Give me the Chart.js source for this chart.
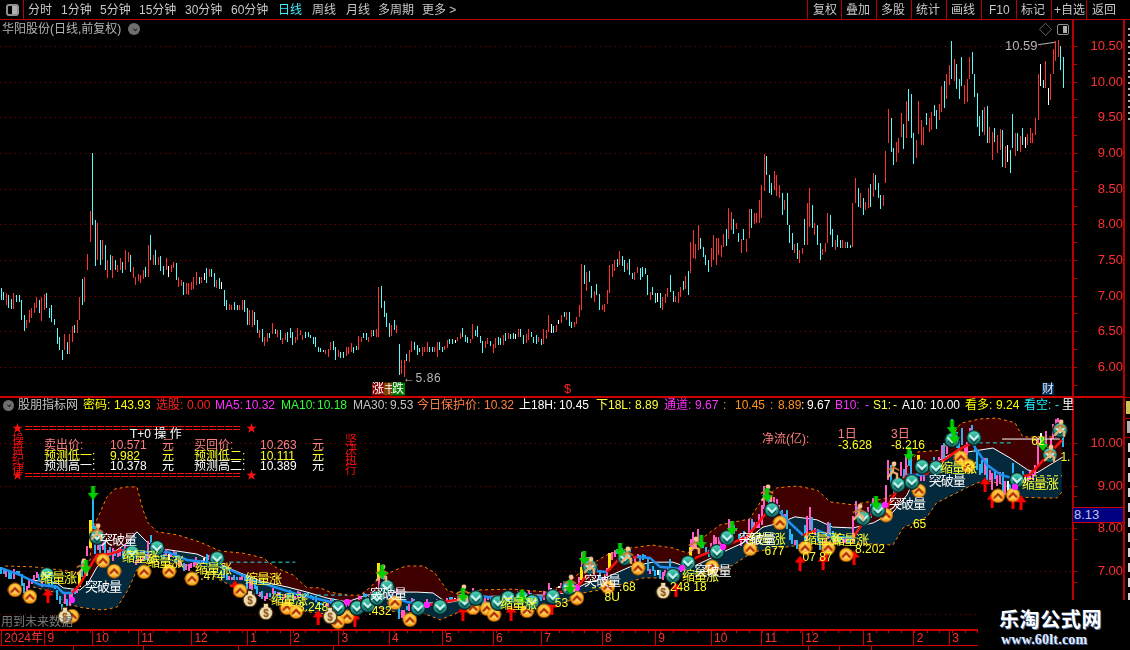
<!DOCTYPE html>
<html>
<head>
<meta charset="UTF-8">
<title>华阳股份 日线</title>
<style>
  html, body { margin: 0; padding: 0; background: #000; overflow: hidden; }
  body { width: 1130px; height: 650px; position: relative; font-family: "Liberation Sans", "Noto Sans CJK SC", sans-serif; }
  canvas { position: absolute; left: 0; }
  #main { top: 20px; }
  #sub { top: 398px; }
  .t { position: absolute; white-space: nowrap; transform: translateY(-50%); font-size: 12px; line-height: 14px; z-index: 5; }
  .b { position: absolute; z-index: 4; }
  #wm { position: absolute; left: 978px; top: 600px; width: 152px; height: 50px; background: #000; z-index: 6; }
</style>
<script src="https://cdn.jsdelivr.net/npm/chart.js"></script>
</head>
<body>
<canvas id="main" width="1123" height="376"></canvas>
<canvas id="sub" width="1123" height="248"></canvas>
<div id="wm"></div>

<script>
// daily bars
var highs = [
  7.11,7.06,7.04,7.02,6.96,7.05,7.02,7.02,6.95,6.74, 6.67,6.81,6.83,6.91,6.99,6.95,6.99,7.03,7.04,6.83,
  6.88,6.68,6.56,6.42,6.25,6.47,6.36,6.47,6.58,6.59, 6.67,6.99,7.24,7.27,7.59,8.19,9.00,8.07,8.02,7.79,
  7.79,7.71,7.51,7.58,7.56,7.51,7.44,7.54,7.48,7.65, 7.62,7.58,7.41,7.27,7.31,7.30,7.37,7.41,7.72,7.86,
  7.58,7.65,7.55,7.56,7.42,7.53,7.42,7.44,7.48,7.46, 7.27,7.23,7.20,7.18,7.18,7.20,7.27,7.34,7.27,7.27,
  7.32,7.40,7.38,7.38,7.32,7.23,7.26,7.20,7.09,6.95, 6.89,6.88,6.92,6.88,6.88,6.94,6.95,6.84,6.80,6.80,
  6.78,6.67,6.53,6.54,6.43,6.49,6.49,6.62,6.54,6.53, 6.52,6.41,6.48,6.50,6.56,6.50,6.42,6.55,6.53,6.46,
  6.50,6.50,6.46,6.43,6.43,6.29,6.27,6.25,6.25,6.26, 6.36,6.37,6.29,6.25,6.22,6.22,6.29,6.28,6.34,6.29,
  6.30,6.44,6.43,6.49,6.48,6.42,6.53,6.52,6.54,7.13, 7.14,6.93,6.76,6.62,6.60,6.67,6.60,6.33,6.11,6.11,
  6.19,6.25,6.37,6.36,6.31,6.27,6.28,6.28,6.35,6.29, 6.28,6.28,6.35,6.36,6.29,6.30,6.39,6.40,6.40,6.39,
  6.43,6.48,6.56,6.46,6.43,6.40,6.61,6.53,6.58,6.44, 6.37,6.37,6.41,6.37,6.33,6.41,6.43,6.41,6.46,6.48,
  6.48,6.47,6.48,6.47,6.54,6.54,6.46,6.47,6.54,6.50, 6.43,6.46,6.43,6.40,6.54,6.53,6.74,6.61,6.58,6.60,
  6.67,6.74,6.78,6.78,6.78,6.64,6.64,6.71,6.88,7.45, 7.44,7.34,7.35,7.14,7.07,7.17,7.03,6.88,6.89,7.09,
  7.44,7.45,7.51,7.52,7.63,7.56,7.51,7.46,7.52,7.32, 7.34,7.41,7.39,7.41,7.39,7.30,7.06,7.13,7.04,7.04,
  7.04,6.99,7.03,7.11,7.30,7.07,7.00,7.06,7.13,7.21, 7.28,7.35,7.76,7.93,7.73,8.00,7.81,7.69,7.57,7.50,
  7.67,7.86,7.81,7.81,7.72,7.87,7.94,8.24,8.18,8.08, 8.03,7.89,7.80,7.94,7.80,8.22,8.22,8.17,8.16,8.35,
  8.56,8.99,8.96,8.70,8.58,8.75,8.70,8.56,8.44,8.35, 8.45,8.00,7.88,7.73,7.74,7.65,7.68,8.08,8.30,8.52,
  8.28,8.02,8.00,7.74,7.66,7.74,8.16,8.14,7.94,7.79, 7.85,7.79,7.79,7.76,7.76,7.72,8.30,8.66,8.52,8.44,
  8.37,8.32,8.51,8.57,8.73,8.70,8.58,8.42,8.42,9.03, 9.62,9.49,9.08,9.16,9.21,9.57,9.41,9.73,9.90,9.83,
  9.28,9.19,9.73,9.47,9.37,9.56,9.49,9.58,9.68,9.61, 9.69,9.95,10.01,10.11,10.24,10.58,10.32,10.26,10.05,10.35,
  9.96,10.04,10.35,10.42,10.12,9.84,9.52,9.61,9.65,9.66, 9.37,9.30,9.35,9.26,9.34,9.33,9.11,9.12,9.05,9.55,
  9.28,9.28,9.25,9.35,9.23,9.27,9.36,9.28,9.49,10.12, 10.25,10.03,10.29,9.91,10.12,10.46,10.58,10.59,10.50,10.35
];
var lows = [
  6.94,6.94,6.88,6.83,6.82,6.82,6.92,6.92,6.67,6.51, 6.55,6.62,6.70,6.77,6.84,6.77,6.65,6.81,6.83,6.69,
  6.64,6.60,6.33,6.25,6.10,6.24,6.19,6.19,6.36,6.48, 6.49,6.66,6.88,6.92,7.37,7.76,8.00,7.42,7.50,7.44,
  7.50,7.37,7.25,7.36,7.25,7.37,7.34,7.37,7.32,7.37, 7.48,7.34,7.25,7.16,7.21,7.19,7.24,7.27,7.27,7.51,
  7.44,7.44,7.44,7.35,7.30,7.37,7.27,7.34,7.39,7.22, 7.13,7.14,7.01,7.03,7.02,7.09,7.10,7.16,7.17,7.18,
  7.22,7.19,7.27,7.27,7.13,7.11,7.10,7.10,6.86,6.81, 6.81,6.81,6.81,6.81,6.80,6.81,6.78,6.60,6.60,6.57,
  6.60,6.48,6.41,6.36,6.30,6.36,6.41,6.47,6.47,6.43, 6.39,6.33,6.39,6.36,6.41,6.32,6.34,6.39,6.46,6.39,
  6.41,6.42,6.41,6.33,6.29,6.22,6.21,6.21,6.19,6.14, 6.25,6.24,6.11,6.14,6.13,6.13,6.16,6.19,6.22,6.20,
  6.25,6.25,6.36,6.41,6.39,6.36,6.42,6.44,6.42,6.42, 6.83,6.71,6.57,6.42,6.44,6.53,6.48,5.89,5.91,5.87,
  6.09,6.08,6.21,6.25,6.18,6.22,6.16,6.22,6.22,6.21, 6.22,6.22,6.15,6.24,6.21,6.24,6.27,6.33,6.33,6.34,
  6.37,6.40,6.43,6.36,6.34,6.34,6.40,6.44,6.43,6.34, 6.20,6.27,6.33,6.30,6.20,6.27,6.31,6.31,6.31,6.37,
  6.40,6.40,6.40,6.40,6.43,6.43,6.33,6.34,6.39,6.43, 6.34,6.33,6.36,6.31,6.33,6.40,6.50,6.48,6.48,6.50,
  6.61,6.62,6.71,6.67,6.58,6.55,6.57,6.61,6.71,6.81, 7.17,7.07,7.20,6.97,6.92,7.02,6.81,6.81,6.78,6.89,
  7.04,7.27,7.35,7.41,7.44,7.42,7.34,7.37,7.30,7.24, 7.23,7.32,7.23,7.27,7.31,7.02,6.95,7.02,6.90,6.92,
  6.83,6.81,6.90,6.99,7.06,6.92,6.92,6.90,6.99,7.09, 7.10,7.02,7.32,7.54,7.52,7.64,7.66,7.55,7.44,7.34,
  7.41,7.50,7.44,7.57,7.55,7.69,7.70,7.80,7.93,7.87, 7.94,7.76,7.60,7.79,7.62,7.82,7.95,8.01,8.02,8.02,
  8.10,8.47,8.70,8.45,8.42,8.49,8.41,8.37,8.14,8.21, 8.00,7.74,7.64,7.61,7.52,7.47,7.59,7.72,7.72,7.97,
  7.95,7.86,7.72,7.50,7.57,7.62,7.75,7.86,7.69,7.64, 7.69,7.67,7.67,7.67,7.67,7.67,7.69,8.30,8.25,8.23,
  8.14,8.21,8.23,8.25,8.39,8.49,8.37,8.22,8.26,8.59, 9.14,9.02,8.84,8.88,9.00,9.23,9.06,9.22,9.46,9.21,
  8.85,8.94,9.27,9.12,9.12,9.40,9.30,9.33,9.52,9.34, 9.47,9.58,9.64,9.76,9.96,10.05,10.02,9.90,9.76,9.95,
  9.69,9.72,10.04,10.12,9.79,9.37,9.25,9.30,9.26,9.15, 9.15,8.91,9.16,9.01,9.05,8.81,8.80,8.88,8.73,9.07,
  8.96,9.04,9.02,9.12,9.07,9.12,9.14,9.14,9.26,9.47, 9.94,9.91,9.91,9.68,9.75,10.11,10.29,10.35,10.17,9.92
];
// r up, c down, w flat
var dirs = (
  'ccrccrcccc' + 'rrrrrcrrcc' + 'cccccrcrrc' + 'rrcrrrccrc' + 'rcrcrcrrcr' + 'rcrrrrrcrc' + 'rcrccrwrrc' +
  'rrcrrrrrcr' + 'wcrccrcwcc' + 'rrccrrccrr' + 'ccrcrrcrcr' + 'crrcccrrrr' + 'ccccccccrr' + 'rccrccrrrc' +
  'crrccrrcrr' + 'ccccrcrcrr' + 'crrcccrrrc' + 'crrccrrccw' + 'rrcccrrccc' + 'crrcrrccrc' + 'rccwrccrrc' +
  'ccrcrrrwcr' + 'wrcrccrrrr' + 'crccrccrrr' + 'rrrcrccrcc' + 'rrccccrccw' + 'crrrccrrrc' + 'rcrrrrcccc' +
  'rrrrrrcrrc' + 'rcrcrrcrrr' + 'rrcccrrrcr' + 'cccrcrrcrr' + 'crccrrrccr' + 'ccrrccrrcr' + 'crrcrcccrr' +
  'rccrrrcrcc' + 'crrrrcrrcc' + 'rrcrrcrccc' + 'rrrcccccrc' + 'rrcrrcrwcc' + 'rcrcwrrrrr' + 'wcrwrrrrcc'
).split('');

var monthIdx = [0, 17, 36, 54, 75, 97, 114, 133, 153, 174, 194, 213, 237, 258, 280, 300, 316, 340, 360, 374];
var monthLabels = ['2024年', '9', '10', '11', '12', '1', '2', '3', '4', '5', '6', '7', '8', '9', '10', '11', '12', '1', '2', '3'];
var mainTicks = [10.5, 10, 9.5, 9, 8.5, 8, 7.5, 7, 6.5, 6];
var subTicks = [10, 9, 8, 7, 6];

// bands of the lower panel: [bar index, price]
var bandUp = [[1.5,7.13],[12.5,7.11],[23,7.04],[31,6.97],[35,7.27],[35.8,7.97],[38.9,8.37],[41.7,8.75],[44.8,8.93],[49.6,8.98],[53.5,8.98],[55.9,8.44],[57.9,8.14],[61.4,7.93],[69.3,7.86],[78.4,7.69],[86.3,7.48],[95.3,7.43],[103.2,7.32],[108.8,7.08],[115.1,6.92],[120.6,6.62],[125.7,6.62],[129.6,6.52],[136.4,6.45],[141.5,6.45],[145.4,6.62],[149.4,6.87],[157.3,7.08],[160,7.13],[166.4,7.13],[171,6.97],[175.8,6.57],[180.9,6.45],[188.8,6.57],[201.9,6.59],[215.3,6.52],[223.2,6.73],[231,7.11],[238.9,7.39],[248,7.55],[257,7.62],[265,7.55],[270.9,7.43],[275.6,7.74],[283.5,8.09],[295.3,8.23],[299.3,8.61],[306,8.96],[313.9,9.0],[321.8,8.91],[327,8.63],[336,8.56],[349.4,8.72],[354.5,8.96],[356.5,9.38],[361.6,9.8],[371.5,9.84],[374.2,10.12],[378.6,10.47],[386,10.57],[392.8,10.59],[399.9,10.48],[403,10.15],[408.6,10.15],[418.4,10.15]];
var bandMid = [[12.5,6.8],[22,6.73],[24.4,6.62],[31,6.57],[34.2,6.73],[37.8,7.11],[42.9,7.39],[49.6,7.67],[53.5,7.93],[57.5,7.69],[61.4,7.55],[69.3,7.48],[77.2,7.41],[85.1,7.2],[94.2,6.97],[103.2,6.76],[112.7,6.64],[120.6,6.52],[128.5,6.38],[136.4,6.29],[144.3,6.45],[157.2,6.52],[163.9,6.52],[170.3,6.5],[175.8,6.27],[182.1,6.34],[190,6.41],[201.9,6.45],[213.7,6.45],[223.2,6.5],[231,6.73],[238.9,6.87],[248,7.11],[257,7.22],[265,7.22],[271.7,7.08],[278.4,7.27],[286.3,7.5],[292.6,7.67],[300.5,8.04],[307.2,8.14],[313.1,8.28],[321.8,8.21],[328,8.04],[336,8.02],[344,8.14],[351.8,8.39],[357.3,8.79],[361.6,9.33],[368.4,9.56],[374.2,9.73],[385.8,9.84],[391.2,9.89],[397.9,9.66],[404.9,9.38],[408.6,9.31],[414.9,9.54],[418.8,9.68]];
var bandLow = [[12.5,6.64],[22,6.5],[24.4,6.27],[32.2,6.15],[40.1,6.1],[45.7,6.17],[50,6.57],[53.5,7.04],[57.5,7.2],[65.4,7.2],[73.3,7.15],[78.4,7.11],[86.3,6.8],[94.2,6.57],[103.2,6.41],[111.1,6.22],[120.6,6.06],[131,5.99],[144.3,6.15],[149.4,6.15],[157.3,6.03],[166.4,6.03],[173.1,5.87],[180.9,6.06],[188.8,6.15],[201.9,6.17],[213.7,6.17],[223.2,6.29],[229.5,6.5],[236.2,6.57],[244.1,6.69],[253.2,6.85],[259.9,6.85],[267.8,6.87],[274.5,6.92],[283.5,7.04],[288.6,7.15],[296.5,7.46],[302,7.51],[315,7.62],[325.7,7.67],[336,7.67],[351.8,7.62],[355.7,8.02],[365.2,8.28],[369,8.61],[376.9,8.84],[382.1,9.0],[388,9.14],[395.9,9.03],[401.9,8.74],[410.9,8.72],[416.4,8.72],[418.4,8.86]];
var maLine = [[0,7.08],[7.4,6.92],[15.3,6.69],[22,6.64],[24.4,6.5],[27.9,6.5],[31,6.69],[34.2,7.04],[37.8,7.39],[42.9,7.41],[48,7.51],[54.7,7.46],[65.4,7.46],[73.3,7.27],[81.2,7.22],[89,7.08],[99.3,6.8],[108.8,6.62],[117.8,6.45],[128.5,6.31],[133.6,6.22],[138.7,6.27],[146.6,6.38],[149.4,6.57],[153.4,6.45],[160,6.29],[167.9,6.22],[173.1,6.27],[179.8,6.34],[187.7,6.45],[194,6.38],[204.6,6.41],[213.7,6.41],[219.2,6.5],[227.1,6.62],[231,6.92],[235,7.01],[238.9,6.99],[244.1,7.32],[250.8,7.34],[255.9,7.32],[259.9,7.11],[267.8,7.06],[274.5,7.34],[279.6,7.46],[286.3,7.62],[294.1,7.81],[300.5,8.28],[303.3,8.44],[307.2,8.39],[311.1,8.14],[316.3,7.85],[321.8,7.97],[328,7.81],[336,7.79],[339.9,8.14],[343.9,8.37],[347.8,8.32],[351.8,8.75],[357.3,9.26],[364.4,9.26],[370.3,9.54],[377.4,9.84],[382.9,10.01],[388.9,9.49],[394.4,9.26],[398.7,9.19],[405.8,9.26],[413,9.73],[418.5,10.08]];

// signal marks of the lower panel: [bar index, price]
var coinMarks = [[5.4,6.57],[11.3,6.41],[40.1,7.25],[44.5,7.01],[56.3,6.99],[66.2,7.01],[75.2,6.83],[94.2,6.55],[27.9,5.96],[112.7,6.15],[116.3,6.06],[136.4,5.94],[132.8,5.82],[155.3,6.27],[161.2,5.87],[186.1,6.15],[191.6,6.13],[194.4,5.99],[207.4,6.08],[214.1,6.08],[227.1,6.38],[239.3,6.64],[251.2,7.08],[280.4,7.11],[295.4,7.53],[307.2,8.14],[317.1,7.55],[326.2,7.55],[333.3,7.39],[349,8.32],[362,8.89],[393.2,8.77],[399.1,8.79],[378.6,9.66],[381.4,9.47]];
var tealMarks = [[18,6.92],[37.8,7.81],[51.6,7.44],[61.4,7.55],[85.1,7.3],[132.8,6.15],[140.3,6.15],[144.6,6.22],[148.2,6.38],[152.1,6.64],[164.4,6.15],[173.1,6.17],[182.8,6.29],[187.2,6.38],[195.9,6.27],[199.9,6.38],[205.4,6.38],[209.4,6.29],[217.6,6.41],[223.9,6.62],[232.2,7.11],[246,7.32],[264.9,6.9],[270.9,7.2],[282.3,7.46],[286.3,7.79],[304,8.44],[340,8.25],[345.9,8.44],[353.8,9.03],[359.2,9.1],[363.2,9.45],[368.7,9.42],[375.1,10.08],[383.7,10.13],[400.7,9.14],[413.7,9.73],[417.7,10.31]];
var bagMarks = [[25.1,5.99],[98.1,6.38],[104.4,6.08],[129.7,5.99],[261.1,6.57]];
var runMarks = [[37.8,7.93],[32.2,7.11],[150.2,6.97],[182.1,6.5],[224.4,6.73],[232.2,7.15],[246.8,7.39],[273.6,7.62],[302.1,8.84],[338.4,8.39],[351.8,9.38],[413.7,9.77],[417.7,10.36]];
var upMarks = [[18.4,6.43],[92.2,6.62],[125,5.92],[139.5,5.87],[182.1,6.03],[201.1,6.03],[217.2,6.15],[266.2,6.57],[315.1,7.2],[324.2,7.22],[336.4,7.32],[325.4,7.46],[388.1,9.03],[390.9,8.67],[399.1,8.63],[402.3,8.61]];
var downMarks = [[36.2,8.84],[33.4,7.11],[150.2,6.99],[182.1,6.45],[205.4,6.41],[224.4,6.64],[229.9,7.32],[244.1,7.51],[276.1,7.69],[288.3,8.02],[302.1,8.79],[345.1,8.61],[358.1,9.75],[375.1,10.38],[375.9,10.15],[410.9,9.98]];
var dotMarks = [[27.9,6.34],[136.4,6.29],[167.9,6.22],[227.1,6.62],[268.6,7.08],[284.7,7.58],[348.6,8.56],[399.9,8.98]];
var yellowBars = [[31,6.64,6.97],[35,7.55,8.21],[149,6.8,7.2],[229,6.8,7.1],[240,7.04,7.43],[272,7.32,7.58],[362,9.56,9.73]];
var flatLines = [[90,116,7.22,'#20e0e0',[4,3]],[124.5,136.4,6.45,'#20e0e0',[4,3]],[382.9,398.7,10.01,'#20e0e0',[4,3]],[394.8,417.6,10.1,'#ffffff',[]],[407,418.4,9.24,'#ffff40',[4,3]],[233,240,6.62,'#ffff40',[4,3]]];

var shrinkLabels = [[22.4,6.87],[54.7,7.37],[64.6,7.25],[83.5,7.09],[103.2,6.85],[113.5,6.36],[203.8,6.27],[275.6,6.92],[302,7.79],[323.8,7.79],[334.8,7.76],[377.4,9.44],[409.7,9.07]];
var breakLabels = [[46,7.76],[40.1,6.67],[152.6,6.5],[237,6.8],[280.6,7.04],[298,7.79],[357.3,8.61],[373,9.14]];
var numLabels = [[83.1,6.87,'.474'],[123,6.15,'3.248'],[149.4,6.06,'.432'],[271,6.62,'248 18'],[241,6.4,'8U'],[247,6.62,'.68'],[221,6.24,'53'],[322,7.32,'07 87'],[342.7,7.5,'8.202'],[361.6,8.09,'.65'],[305,7.46,'677'],[409,10.03,'62'],[419.8,9.66,'1.']];

// ---- icons for the signal marks
function mk(w, h, draw) {
  var c = document.createElement('canvas');
  c.width = w; c.height = h;
  draw(c.getContext('2d'));
  return c;
}
var coinIcon = mk(15, 15, function (g) {
  var gr = g.createRadialGradient(7.5, 5, 1, 7.5, 7.5, 7.5);
  gr.addColorStop(0, '#ffe060'); gr.addColorStop(0.7, '#ffb020'); gr.addColorStop(1, '#d86000');
  g.fillStyle = gr; g.beginPath(); g.arc(7.5, 7.5, 7, 0, 7); g.fill();
  g.lineWidth = 2; g.strokeStyle = '#a82000';
  g.beginPath(); g.moveTo(3.5, 10); g.lineTo(7.5, 5.5); g.lineTo(11.5, 10); g.stroke();
  g.lineWidth = 1; g.strokeStyle = '#fff0b0';
  g.beginPath(); g.moveTo(4, 12); g.lineTo(7.5, 8.5); g.lineTo(11, 12); g.stroke();
});
var tealIcon = mk(16, 16, function (g) {
  var gr = g.createLinearGradient(0, 0, 0, 16);
  gr.addColorStop(0, '#50e0c0'); gr.addColorStop(1, '#0a6060');
  g.fillStyle = '#082020'; g.beginPath(); g.arc(8, 8, 8, 0, 7); g.fill();
  g.fillStyle = gr; g.beginPath(); g.arc(8, 8, 6.7, 0, 7); g.fill();
  g.lineWidth = 2; g.strokeStyle = '#d0f8f0';
  g.beginPath(); g.moveTo(3.5, 5.5); g.lineTo(8, 10); g.lineTo(12.5, 5.5); g.stroke();
  g.lineWidth = 1; g.strokeStyle = '#063030';
  g.beginPath(); g.moveTo(4, 9); g.lineTo(8, 13); g.lineTo(12, 9); g.stroke();
});
var bagIcon = mk(16, 18, function (g) {
  g.fillStyle = '#3a2408'; g.beginPath(); g.arc(8, 11, 7.6, 0, 7); g.fill();
  g.fillRect(5, 1, 6, 5);
  g.fillStyle = '#ecdcae'; g.beginPath(); g.arc(8, 11, 6.3, 0, 7); g.fill();
  g.fillRect(6, 2, 4, 4);
  g.fillStyle = '#8a4a10'; g.font = 'bold 10px "Liberation Sans"'; g.textAlign = 'center';
  g.fillText('$', 8, 15);
});
var runIcon = mk(14, 18, function (g) {
  g.strokeStyle = '#f0b070'; g.fillStyle = '#f8c890'; g.lineWidth = 2.4; g.lineCap = 'round';
  g.beginPath(); g.arc(8, 3, 2.4, 0, 7); g.fill();
  g.beginPath(); g.moveTo(7.5, 6); g.lineTo(6.5, 11); g.lineTo(2, 16); g.stroke();
  g.beginPath(); g.moveTo(6.5, 11); g.lineTo(11, 13); g.lineTo(11, 17); g.stroke();
  g.strokeStyle = '#c87830'; g.lineWidth = 1.8;
  g.beginPath(); g.moveTo(1.5, 9); g.lineTo(7.5, 6.5); g.lineTo(12.5, 9); g.stroke();
});
var upIcon = mk(11, 15, function (g) {
  g.fillStyle = '#ff0000';
  g.beginPath(); g.moveTo(5.5, 0); g.lineTo(11, 7); g.lineTo(7, 7); g.lineTo(7, 15); g.lineTo(4, 15); g.lineTo(4, 7); g.lineTo(0, 7); g.fill();
});
var downIcon = mk(11, 14, function (g) {
  g.fillStyle = '#00d000';
  g.beginPath(); g.moveTo(5.5, 14); g.lineTo(11, 7); g.lineTo(7.5, 7); g.lineTo(7.5, 0); g.lineTo(3.5, 0); g.lineTo(3.5, 7); g.lineTo(0, 7); g.fill();
});
var dotIcon = mk(6, 6, function (g) {
  g.fillStyle = '#ff20ff'; g.fillRect(1, 0, 4, 6); g.fillRect(0, 1, 6, 4);
});

function pts(list) { return list.map(function (p) { return { x: p[0], y: p[1] }; }); }
var barData = highs.map(function (h, i) { return { x: i, y: [lows[i], h] }; });

// ---- plugins
var snapBars = {
  id: 'snapBars',
  beforeDatasetsDraw: function (chart) {
    chart.getSortedVisibleDatasetMetas().forEach(function (m) {
      if (m.type !== 'bar') return;
      m.data.forEach(function (el) {
        el.x = el.width % 2 ? Math.floor(el.x) + 0.5 : Math.round(el.x);
        el.y = Math.round(el.y);
        el.base = Math.round(el.base);
      });
    });
  }
};
var subLabels = {
  id: 'subLabels',
  afterDatasetsDraw: function (chart) {
    var g = chart.ctx, sx = chart.scales.x, sy = chart.scales.y;
    g.save();
    g.textAlign = 'center';
    g.textBaseline = 'middle';
    g.font = '12px "Liberation Sans"';
    g.fillStyle = '#ffff30';
    numLabels.forEach(function (l) { g.fillText(l[2], sx.getPixelForValue(l[0]), sy.getPixelForValue(l[1])); });
    g.font = '13px "Noto Sans CJK SC"';
    g.letterSpacing = '-1px';
    g.fillStyle = '#ffff30';
    shrinkLabels.forEach(function (l) { g.fillText('缩量涨', sx.getPixelForValue(l[0]), sy.getPixelForValue(l[1])); });
    g.fillStyle = '#ffffff';
    breakLabels.forEach(function (l) { g.fillText('突破量', sx.getPixelForValue(l[0]), sy.getPixelForValue(l[1])); });
    g.letterSpacing = '0px';
    // small day marks on the date axis
    g.strokeStyle = '#d00000';
    g.beginPath();
    for (var i = 0; i < 400; i += 5) {
      var x = Math.round(sx.getPixelForValue(i)) + 0.5;
      g.moveTo(x, chart.chartArea.bottom);
      g.lineTo(x, chart.chartArea.bottom + 3);
    }
    g.stroke();
    g.restore();
  }
};

// ---- charts
var xRange = { min: -0.51, max: 422.4 };

function yAxis(min, max, labelled) {
  var list = [];
  labelled.forEach(function (v) { list.push(v); list.push(v - 0.25); });
  return {
    position: 'right', min: min, max: max,
    afterBuildTicks: function (s) { s.ticks = list.map(function (v) { return { value: v }; }); },
    afterFit: function (s) { s.width = 51; s.paddingTop = 0; s.paddingBottom = 0; },
    border: { display: false, dash: [1, 4] },
    grid: {
      color: function (c) { return labelled.indexOf(c.tick.value) >= 0 ? '#900000' : 'transparent'; },
      tickColor: '#c00000', tickLength: 5, tickBorderDash: [], lineWidth: 1
    },
    ticks: {
      autoSkip: false, padding: 8, crossAlign: 'far', color: '#ff3030',
      font: { family: '"Liberation Sans"', size: 13 },
      callback: function (v) { return labelled.indexOf(v) >= 0 ? v.toFixed(2) : ''; }
    }
  };
}

new Chart(document.getElementById('main'), {
  type: 'bar',
  data: {
    datasets: [{
      data: barData,
      backgroundColor: dirs.map(function (d) { return d === 'r' ? '#ff3232' : d === 'w' ? '#ffffff' : '#54fcfc'; }),
      barThickness: 1, inflateAmount: 0, borderWidth: 0
    }]
  },
  options: {
    responsive: false, animation: false, devicePixelRatio: 1,
    layout: { autoPadding: false },
    plugins: { legend: { display: false }, tooltip: { enabled: false } },
    scales: {
      x: { type: 'linear', display: false, offset: false, grid: { offset: false }, min: xRange.min, max: xRange.max },
      y: yAxis(5.6, 10.87, mainTicks)
    }
  },
  plugins: [snapBars]
});

var subDatasets = [
  { type: 'line', label: 'redTop', data: pts(bandUp.slice(4)), borderWidth: 0, borderColor: 'transparent', pointRadius: 0, fill: { target: 1, above: '#3e0000', below: '#3e0000' }, order: 20 },
  { type: 'line', label: 'mid', data: pts(bandMid), borderColor: '#ffffff', borderWidth: 1, pointRadius: 0, order: 15 },
  { type: 'line', label: 'low', data: pts(bandLow), borderColor: '#ff8000', borderWidth: 1, borderDash: [3, 3], pointRadius: 0, fill: { target: 1, above: '#04283c', below: '#04283c' }, order: 19 },
  { type: 'line', label: 'up', data: pts(bandUp), borderColor: '#ff8000', borderWidth: 1, borderDash: [3, 3], pointRadius: 0, order: 14 },
  {
    type: 'bar', data: barData, grouped: false,
    backgroundColor: dirs.map(function (d) { return d === 'r' ? '#ff5ac8' : d === 'w' ? '#ffffff' : '#28b4f0'; }),
    barThickness: 2, inflateAmount: 0, order: 10
  },
  {
    type: 'bar', grouped: false,
    data: yellowBars.map(function (b) { return { x: b[0], y: [b[1], b[2]] }; }),
    backgroundColor: '#ffe800', barThickness: 3, inflateAmount: 0, order: 9
  },
  {
    type: 'line', data: pts(maLine), borderWidth: 2.5, pointRadius: 0, order: 8, borderColor: '#2090f0',
    segment: { borderColor: function (c) { return c.p1.parsed.y > c.p0.parsed.y ? '#f81010' : '#2090f0'; } }
  }
];
flatLines.forEach(function (l) {
  subDatasets.push({ type: 'line', data: [{ x: l[0], y: l[2] }, { x: l[1], y: l[2] }], borderColor: l[3], borderWidth: 1, borderDash: l[4], pointRadius: 0, order: 7 });
});
[[upMarks, upIcon, 6], [coinMarks, coinIcon, 5], [tealMarks, tealIcon, 4], [bagMarks, bagIcon, 3], [dotMarks, dotIcon, 2.5], [runMarks, runIcon, 2], [downMarks, downIcon, 1]].forEach(function (s) {
  subDatasets.push({ type: 'scatter', data: pts(s[0]), pointStyle: s[1], pointRadius: 3, showLine: false, order: s[2] });
});

new Chart(document.getElementById('sub'), {
  data: { datasets: subDatasets },
  options: {
    responsive: false, animation: false, devicePixelRatio: 1,
    layout: { autoPadding: false },
    plugins: { legend: { display: false }, tooltip: { enabled: false } },
    scales: {
      x: {
        type: 'linear', offset: false, min: xRange.min, max: xRange.max,
        afterBuildTicks: function (s) { s.ticks = monthIdx.map(function (v) { return { value: v }; }); },
        afterFit: function (s) { s.height = 16; s.paddingLeft = 0; s.paddingRight = 0; },
        border: { color: '#d00000', width: 2 },
        grid: { offset: false, drawOnChartArea: false, tickLength: 15, tickColor: '#d00000' },
        ticks: {
          autoSkip: false, maxRotation: 0, minRotation: 0, align: 'start', padding: -14, labelOffset: 3, color: '#ff3030',
          font: { family: '"Liberation Sans","Noto Sans CJK SC"', size: 12 },
          callback: function (v) { return monthLabels[monthIdx.indexOf(v)]; }
        }
      },
      y: yAxis(5.633, 11.06, subTicks)
    }
  },
  plugins: [snapBars, subLabels]
});

// ---- page furniture around the charts
function txt(x, y, s, color, size, extra) {
  var d = document.createElement('div');
  d.className = 't';
  d.textContent = s;
  d.style.left = x + 'px';
  d.style.top = y + 'px';
  d.style.color = color;
  if (size) d.style.fontSize = size + 'px';
  if (extra) d.style.cssText += extra;
  document.body.appendChild(d);
  return d;
}
function box(x, y, w, h, color, extra) {
  var d = document.createElement('div');
  d.className = 'b';
  d.style.cssText = 'left:' + x + 'px;top:' + y + 'px;width:' + w + 'px;height:' + h + 'px;background:' + color + ';' + (extra || '');
  document.body.appendChild(d);
  return d;
}

var lineRed = '#b80000';
box(0, 19, 1130, 1, lineRed);
box(23, 0, 1, 19, lineRed);
box(0, 396, 1123, 2, '#d00000');
box(0, 645, 978, 1, '#d00000');
box(1072, 20, 2, 580, lineRed);
[73, 143, 238, 333, 808, 839, 871].forEach(function (x) { box(x, 646, 1, 4, '#d00000'); });
box(1123, 20, 2, 580, lineRed);
box(1125, 397, 5, 1, lineRed);
box(1125, 418, 5, 1, lineRed);
box(1125, 437, 5, 1, lineRed);
[443, 458, 473, 488, 503, 518, 533, 548, 563, 578, 593].forEach(function (y) { box(1128, y, 2, 9, '#d8d8d8'); });
[28, 34, 40, 46, 52, 58, 64, 70, 76, 82, 88, 94, 100, 106, 112, 118].forEach(function (y) { box(1128, y, 2, 2, '#b0b0b0'); });
box(1126, 401, 4, 13, '#c8c850');
box(1127, 421, 3, 12, '#b0b0b0');

// toolbar, left
box(6, 4, 13, 12, '#000', 'border:2px solid #909090;border-radius:3px;box-sizing:border-box;');
box(12, 6, 5, 8, '#b0b0b0');
[[28, '分时'], [61, '1分钟'], [100, '5分钟'], [139, '15分钟'], [185, '30分钟'], [231, '60分钟'], [312, '周线'], [346, '月线'], [378, '多周期'], [422, '更多 >']].forEach(function (t) {
  txt(t[0], 10, t[1], '#c8c8c8');
});
txt(278, 10, '日线', '#40f0ff');
// toolbar, right
[807, 841, 876, 911, 946, 981, 1016, 1051, 1086].forEach(function (x) { box(x, 0, 1, 19, lineRed); });
[[813, '复权'], [846, '叠加'], [881, '多股'], [916, '统计'], [951, '画线'], [989, 'F10'], [1021, '标记'], [1054, '+自选'], [1092, '返回']].forEach(function (t) {
  txt(t[0], 10, t[1], '#c8c8c8');
});

// stock title
txt(2, 29, '华阳股份(日线,前复权)', '#b4b4b4');
box(128, 23, 12, 12, '#6e6e6e', 'border-radius:50%;');
txt(131, 28, '⌄', '#111', 10);
txt(1039, 30, '◇', '#808080', 13);
box(1057, 24, 12, 11, '#000', 'border:1px solid #909090;border-radius:2px;box-sizing:border-box;');
box(1063, 26, 4, 7, '#b0b0b0');

// marks on the upper panel
txt(1005, 46, '10.59', '#b4b4b4', 13);
box(1038, 43, 17, 1, '#b4b4b4', 'transform:rotate(-9deg);');
txt(403, 378, '←5.86', '#b4b4b4', 12, 'letter-spacing:0.6px;');
txt(372, 388.5, '涨', '#fff', 12, 'background:#880000;width:12px;height:13px;line-height:13px;');
txt(384, 388.5, '书', '#fff', 11, 'background:#804000;width:8px;height:13px;line-height:13px;overflow:hidden;');
txt(392, 388.5, '跌', '#fff', 12, 'background:#007800;width:13px;height:13px;line-height:13px;');
txt(564, 389, '$', '#ff2020', 13);
txt(1042, 388.5, '财', '#e0e0e0', 12, 'background:#003060;width:12px;height:12px;line-height:12px;');

// header of the lower panel
box(3, 400, 11, 11, '#6e6e6e', 'border-radius:50%;');
txt(5, 404, '⌄', '#111', 10);
[
  [18, '股朋指标网', '#c4c4c4'], [83, '密码:', '#ffff00'], [114, '143.93', '#ffff00'],
  [156, '选股:', '#ff2020'], [187, '0.00', '#ff2020'], [215, 'MA5:', '#ff30ff'], [245, '10.32', '#ff30ff'],
  [281, 'MA10:', '#30ff30'], [317, '10.18', '#30ff30'], [353, 'MA30:', '#c4c4c4'], [390, '9.53', '#c4c4c4'],
  [417, '今日保护价:', '#ff8040'], [484, '10.32', '#ff8040'], [519, '上18H:', '#ffffff'], [559, '10.45', '#ffffff'],
  [596, '下18L:', '#ffff40'], [635, '8.89', '#ffff40'], [664, '通道:', '#ff30ff'], [695, '9.67', '#ff30ff'],
  [723, ':', '#ff9020'], [735, '10.45', '#ff9020'], [770, ':', '#ff9020'], [778, '8.89', '#ff9020'],
  [801, ':', '#ffffff'], [807, '9.67', '#ffffff'], [835, 'B10:', '#ff30ff'], [865, '-', '#ff30ff'],
  [873, 'S1:', '#ffff40'], [893, '-', '#ffff40'], [902, 'A10:', '#ffffff'], [930, '10.00', '#ffffff'],
  [965, '看多:', '#ffff00'], [996, '9.24', '#ffff00'], [1024, '看空:', '#20f0ff'], [1055, '-', '#20f0ff'], [1062, '里', '#ffffff']
].forEach(function (t) { txt(t[0], 405, t[1], t[2]); });

// T+0 block
var dash = 'background:repeating-linear-gradient(90deg,#f01010 0 7px,transparent 7px 8px);';
box(25, 426, 216, 1, '#f01010', dash);
box(25, 429, 216, 1, '#f01010', dash);
box(25, 473, 216, 1, '#f01010', dash);
box(25, 476, 216, 1, '#f01010', dash);
txt(12, 428, '★', '#ff1010', 11);
txt(246, 428, '★', '#ff1010', 11);
txt(12, 475, '★', '#ff1010', 11);
txt(246, 475, '★', '#ff1010', 11);
txt(130, 434, 'T+0 操 作', '#ffffff');
var rows = [
  [445, '#ff8080', '卖出价:', '10.571', '买回价:', '10.263'],
  [456, '#ffff20', '预测低一:', '9.982', '预测低二:', '10.111'],
  [466, '#ffffff', '预测高一:', '10.378', '预测高二:', '10.389']
];
rows.forEach(function (r) {
  txt(44, r[0], r[2], r[1]);
  txt(110, r[0], r[3], r[1]);
  txt(162, r[0], '元', r[1]);
  txt(194, r[0], r[4], r[1]);
  txt(260, r[0], r[5], r[1]);
  txt(312, r[0], '元', r[1]);
});
'操盘纪律'.split('').forEach(function (c, i) { txt(12, 440 + i * 10, c, '#f01010', 12); });
'坚决执行'.split('').forEach(function (c, i) { txt(345, 440 + i * 10, c, '#f01010', 12); });

txt(762, 439, '净流(亿):', '#ff8080');
txt(838, 434, '1日', '#ff8080');
txt(891, 434, '3日', '#ff8080');
txt(838, 445, '-3.628', '#ffff20');
txt(891, 445, '-8.216', '#ffff20');

// price box on the axis
box(1073, 507, 50, 16, '#000080', 'border-top:1px solid #d00000;border-bottom:1px solid #d00000;box-sizing:border-box;');
txt(1074, 515, '8.13', '#b8c8e8', 13);

// site mark
txt(999, 620, '乐淘公式网', '#ffffff', 20, 'z-index:7;font-weight:bold;letter-spacing:0.6px;text-shadow:1px 1px 0 #5878a8;');
txt(1001, 640, 'www.60lt.com', '#e0ecff', 14, 'z-index:7;font-family:"Liberation Serif";font-weight:bold;letter-spacing:0.2px;text-shadow:1px 1px 0 #4060a0;');
txt(1, 622, '用到未来数据', '#7c7c7c', 12);
</script>
</body>
</html>
